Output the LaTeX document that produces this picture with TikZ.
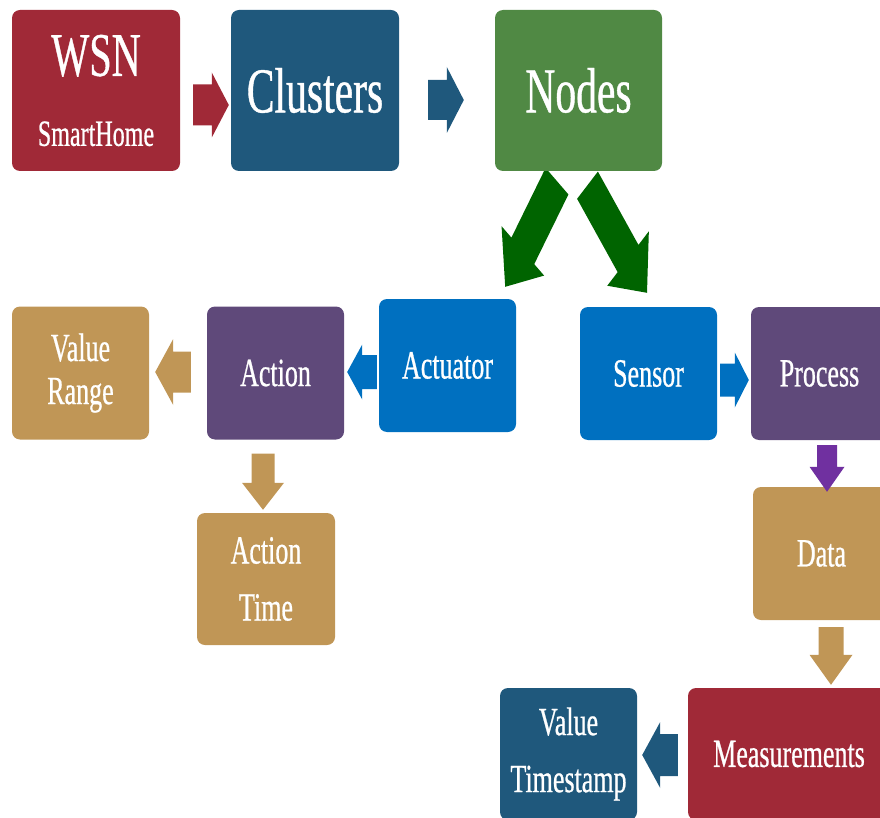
\documentclass[tikz,border=0pt]{standalone}
\usepackage{fontspec}
\setmainfont{Liberation Serif}[FakeStretch=0.65,FakeBold=0.6]
\usetikzlibrary{calc,backgrounds}

\definecolor{wsnred}{RGB}{160,41,55}
\definecolor{deepblue}{RGB}{31,88,124}
\definecolor{leafgreen}{RGB}{80,137,68}
\definecolor{arrowgreen}{RGB}{0,100,0}
\definecolor{sand}{RGB}{192,150,86}
\definecolor{plum}{RGB}{95,73,122}
\definecolor{brightblue}{RGB}{0,112,192}
\definecolor{arrowviolet}{RGB}{112,48,160}

% horizontal squeeze of the frame in which a block arrow is built
\newcommand\arrowsq{1}
% block arrow: #1 start, #2 tip, #3 shaft half-width, #4 head half-width,
% #5 head length, #6 colour
\newcommand\blockarrow[6]{%
  \fill[#6] let \p1=(#1), \p2=(#2),
    \n1={(\x2-\x1)/\arrowsq}, \n2={\y2-\y1},
    \n3={veclen(\n1,\n2)}, \n4={\n1/\n3}, \n5={\n2/\n3},
    \n6={\n3-(#5)}
  in ({\x1+\arrowsq*(-(#3)*(\n5))*1pt}, {\y1+(#3)*(\n4)*1pt})
  -- ({\x1+\arrowsq*((\n6)*(\n4)-(#3)*(\n5))*1pt}, {\y1+((\n6)*(\n5)+(#3)*(\n4))*1pt})
  -- ({\x1+\arrowsq*((\n6)*(\n4)-(#4)*(\n5))*1pt}, {\y1+((\n6)*(\n5)+(#4)*(\n4))*1pt})
  -- (\p2)
  -- ({\x1+\arrowsq*((\n6)*(\n4)+(#4)*(\n5))*1pt}, {\y1+((\n6)*(\n5)-(#4)*(\n4))*1pt})
  -- ({\x1+\arrowsq*((\n6)*(\n4)+(#3)*(\n5))*1pt}, {\y1+((\n6)*(\n5)-(#3)*(\n4))*1pt})
  -- ({\x1+\arrowsq*((#3)*(\n5))*1pt}, {\y1-(#3)*(\n4)*1pt})
  -- cycle;}

\begin{document}
\begin{tikzpicture}[x=1pt,y=-1pt,
  box/.style={rounded corners=8pt, text=white, align=center, inner sep=0pt,
    minimum width=137pt, minimum height=133pt},
  wide/.style={minimum width=168pt, minimum height=161pt},
  big/.style={font=\fontsize{64}{70}\selectfont},
  small/.style={font=\fontsize{40}{57}\selectfont}]
\useasboundingbox (0,0) rectangle (880,818);
\clip (0,0) rectangle (880,818);

% top row
\node[box,wide,fill=wsnred,font=\fontsize{62}{70}\selectfont] (wsn) at (96,90.5)
  {WSN\\{\fontsize{37}{42}\selectfont SmartHome}};
\node[box,wide,big,fill=deepblue] (clusters) at (315,90.5) {Clusters};
\node[box,wide,big,fill=leafgreen,minimum width=167pt] (nodes) at (578.5,90.5) {Nodes};

% actuator branch
\node[box,small,fill=sand,font=\fontsize{40}{43}\selectfont] (vrange) at (80.5,373) {Value\\Range};
\node[box,small,fill=plum] (action) at (275.5,373) {Action};
\node[box,small,fill=brightblue] (actuator) at (447.5,365.5) {Actuator};
\node[box,small,fill=sand,minimum width=138pt,minimum height=132pt] (actime) at (266,579) {Action\\Time};

% sensor branch
\node[box,small,fill=brightblue] (sensor) at (648.5,373.5) {Sensor};
\node[box,small,fill=plum] (process) at (819.5,373.5) {Process};
\node[box,small,fill=sand] (data) at (821.5,553.5) {Data};
\node[box,small,fill=wsnred,minimum width=202pt,minimum height=132pt] (meas) at (789,754) {Measurements};
\node[box,small,fill=deepblue,minimum height=132pt] (vts) at (568.5,754) {Value\\Timestamp};

% connectors
\blockarrow{$(wsn.east)+(13,14.5)$}{$(clusters.west)+(-2,14.5)$}{20.5}{32.5}{17}{wsnred}
\blockarrow{$(clusters.east)+(29,9.5)$}{$(nodes.west)+(-31,9.5)$}{20}{33}{17}{deepblue}
\blockarrow{$(actuator.west)+(-2,6.5)$}{$(action.east)+(3,-1)$}{17}{27.5}{15}{brightblue}
\blockarrow{$(action.west)+(-16,-1)$}{$(vrange.east)+(6,-1)$}{20.5}{33}{18}{sand}
\blockarrow{$(action.south)+(-12.5,14)$}{$(actime.north)+(-3,-3)$}{11.5}{21}{27}{sand}
\blockarrow{$(sensor.east)+(3,6.5)$}{$(process.west)+(-2,6.5)$}{16.5}{27.5}{14}{brightblue}
\blockarrow{$(process.south)+(7.5,5)$}{$(data.north)+(5.5,5)$}{10}{17.5}{25}{arrowviolet}
\blockarrow{$(data.south)+(9.5,7)$}{$(meas.north)+(42,-3)$}{12.5}{21.5}{30}{sand}
\blockarrow{$(meas.west)+(-10,1)$}{$(vts.east)+(5,1)$}{21}{33}{18}{deepblue}

\begin{scope}[on background layer]
  \renewcommand\arrowsq{0.65}
  \blockarrow{$(nodes.south)+(-21.5,10)$}{$(actuator.north east)+(-11,-12)$}{22}{41}{45}{arrowgreen}
  \blockarrow{$(nodes.south)+(9,14)$}{$(sensor.north)+(-1.5,-14)$}{21}{42}{45}{arrowgreen}
\end{scope}
\end{tikzpicture}
\end{document}
